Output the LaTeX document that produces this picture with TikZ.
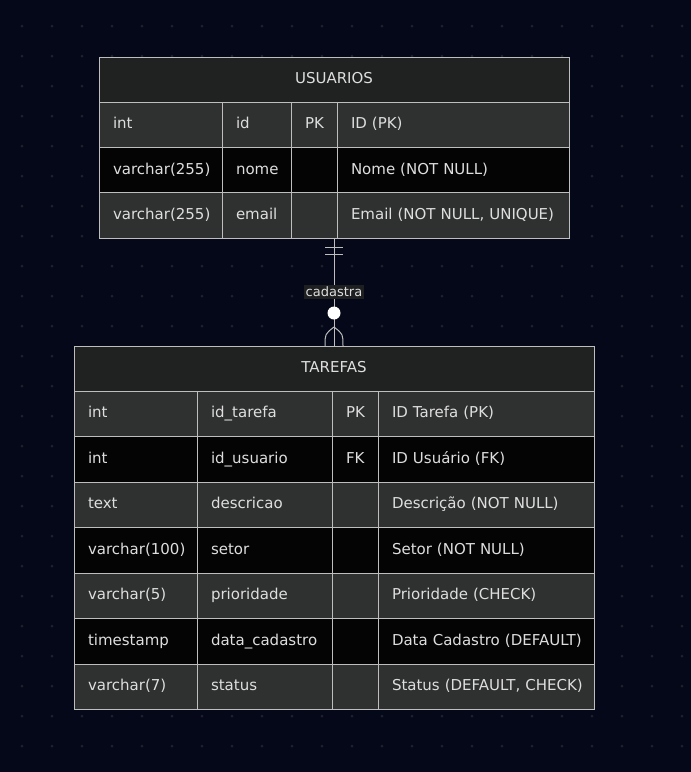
\documentclass[tikz,border=0pt]{standalone}
\usepackage{fontspec}
\setmainfont{DejaVu Sans}
\usetikzlibrary{positioning}

\definecolor{bgnavy}{RGB}{4,8,24}
\definecolor{griddot}{RGB}{30,34,48}
\definecolor{headfill}{RGB}{32,33,33}
\definecolor{rowgrey}{RGB}{47,48,48}
\definecolor{rowblack}{RGB}{4,4,4}
\definecolor{erline}{RGB}{190,190,190}
\definecolor{ertext}{RGB}{222,222,222}
\definecolor{labelfill}{RGB}{30,31,33}

\begin{document}
\begin{tikzpicture}[x=1pt, y=-1pt]
    \tikzset{
      cell/.style = {draw=erline, line width=1pt, anchor=north west,
        outer sep=0pt, minimum height=45.5, inner xsep=14, inner ysep=0,
        align=left, text=ertext, text height=11, text depth=3,
        font=\fontsize{15}{17}\selectfont},
      header/.style = {cell, fill=headfill, align=center},
      ucA/.style = {minimum width=123, text width=95},
      ucB/.style = {minimum width=69, text width=41},
      ucC/.style = {minimum width=46, text width=18},
      ucD/.style = {minimum width=232, text width=204},
      tcA/.style = {minimum width=123, text width=95},
      tcB/.style = {minimum width=135, text width=107},
      tcC/.style = {minimum width=46, text width=18},
      tcD/.style = {minimum width=216, text width=188},
      relline/.style = {draw=erline, line width=1pt},
      rellabel/.style = {fill=labelfill, text=ertext, inner sep=2,
        font=\fontsize{13}{15}\selectfont}
    }

    % background with dot grid
    \useasboundingbox (0,0) rectangle (691,772);
    \fill[bgnavy] (0,0) rectangle (691,772);
    \foreach \x in {22,52,...,682}
      \foreach \y in {26,56,...,746}
        \fill[griddot] (\x,\y) circle (1.5pt);

    % USUARIOS
    \node[header, minimum width=470, text width=442] (usuarios) at (99,57) {USUARIOS};
    \foreach \typ/\nam/\key/\com [count=\i] in {
        int/id/PK/ID (PK),
        varchar(255)/nome//Nome (NOT NULL),
        varchar(255)/email//{Email (NOT NULL, UNIQUE)}}{
      \pgfmathsetmacro\y{102+(\i-1)*45.33}
      \ifodd\i \def\rowfill{rowgrey}\else \def\rowfill{rowblack}\fi
      \node[cell, ucA, fill=\rowfill] (u-\i-a) at (99,\y) {\mbox{\typ}};
      \node[cell, ucB, fill=\rowfill] (u-\i-b) at (u-\i-a.north east) {\mbox{\nam}};
      \node[cell, ucC, fill=\rowfill] (u-\i-c) at (u-\i-b.north east) {\mbox{\key}};
      \node[cell, ucD, fill=\rowfill] (u-\i-d) at (u-\i-c.north east) {\mbox{\com}};
    }

    % TAREFAS
    \node[header, minimum width=520, text width=492] (tarefas) at (74,346) {TAREFAS};
    \foreach \typ/\nam/\key/\com [count=\i] in {
        int/id\_tarefa/PK/ID Tarefa (PK),
        int/id\_usuario/FK/ID Usuário (FK),
        text/descricao//Descrição (NOT NULL),
        varchar(100)/setor//Setor (NOT NULL),
        varchar(5)/prioridade//Prioridade (CHECK),
        timestamp/data\_cadastro//Data Cadastro (DEFAULT),
        varchar(7)/status//{Status (DEFAULT, CHECK)}}{
      \pgfmathsetmacro\y{391+(\i-1)*45.5}
      \ifodd\i \def\rowfill{rowgrey}\else \def\rowfill{rowblack}\fi
      \node[cell, tcA, fill=\rowfill] (t-\i-a) at (74,\y) {\mbox{\typ}};
      \node[cell, tcB, fill=\rowfill] (t-\i-b) at (t-\i-a.north east) {\mbox{\nam}};
      \node[cell, tcC, fill=\rowfill] (t-\i-c) at (t-\i-b.north east) {\mbox{\key}};
      \node[cell, tcD, fill=\rowfill] (t-\i-d) at (t-\i-c.north east) {\mbox{\com}};
    }

    % relation: exactly one USUARIOS to zero or many TAREFAS
    \coordinate (relTop) at (usuarios.center |- u-3-a.south);
    \coordinate (relBot) at (tarefas.north);
    \draw[relline] (relTop) -- node[rellabel, pos=0.5] (cadastra) {cadastra} (relBot);
    \draw[relline] ([shift={(-9,9)}]relTop) -- ([shift={(9,9)}]relTop);
    \draw[relline] ([shift={(-9,16)}]relTop) -- ([shift={(9,16)}]relTop);
    \fill[white] ([shift={(0,-33)}]relBot) circle (6.5pt);
    \draw[relline] ([shift={(0,-19)}]relBot) .. controls ([shift={(-9,-12)}]relBot) .. ([shift={(-9,0)}]relBot);
    \draw[relline] ([shift={(0,-19)}]relBot) .. controls ([shift={(9,-12)}]relBot) .. ([shift={(9,0)}]relBot);
\end{tikzpicture}
\end{document}
